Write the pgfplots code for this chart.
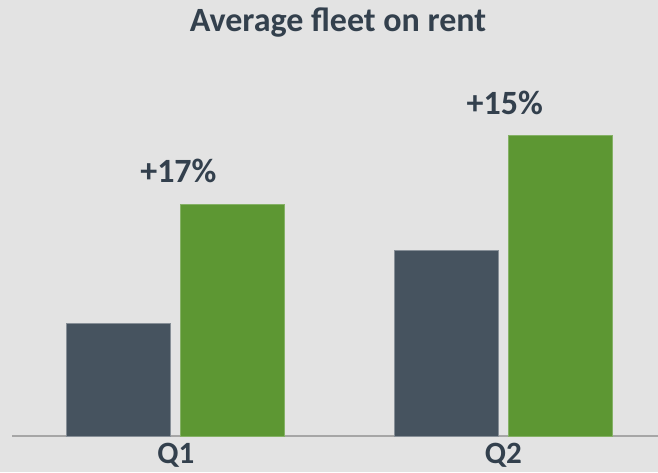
\documentclass[border=0pt]{standalone}
\usepackage{pgfplots}
\pgfplotsset{compat=1.18}
\usepackage{fontspec}
\setmainfont{Carlito}
\definecolor{bgc}{RGB}{227,227,227}
\definecolor{darkbar}{RGB}{70,83,95}
\definecolor{greenbar}{RGB}{93,151,51}
\definecolor{txt}{RGB}{51,64,77}
\definecolor{axc}{RGB}{166,166,166}
\begin{document}
\begin{tikzpicture}[x=1pt,y=1pt]
\fill[bgc] (0,0) rectangle (658,472);
\useasboundingbox (0,0) rectangle (658,472);
\node[anchor=base, text=txt, font=\fontsize{34}{40}\selectfont\bfseries] at (338,440) {Average fleet on rent};
\begin{axis}[
  at={(12pt,36pt)}, anchor=south west,
  scale only axis, width=646pt, height=400pt,
  xmin=-0.5, xmax=1.472, ymin=0, ymax=400,
  ybar, bar width=104pt,
  axis x line=bottom, axis y line=none,
  axis line style={axc, line width=1.2pt, -},
  xtick={0,1}, xticklabels={Q1,Q2},
  major tick length=0pt,
  xticklabel style={anchor=base, yshift=-27pt, text=txt, font=\fontsize{31}{36}\selectfont\bfseries},
  clip=false,
]
\addplot[bar shift=-57pt, fill=darkbar, draw=white!35!darkbar, line width=0.6pt] coordinates {(0,113) (1,185.7)};
\addplot[bar shift=57pt, fill=greenbar, draw=white!25!greenbar, line width=0.6pt] coordinates {(0,231.5) (1,300.5)};
\node[anchor=base, text=txt, font=\fontsize{34}{40}\selectfont\bfseries] at (axis cs:0.008,253.5) {+17\%};
\node[anchor=base, text=txt, font=\fontsize{34}{40}\selectfont\bfseries] at (axis cs:1.004,321) {+15\%};
\end{axis}
\end{tikzpicture}
\end{document}
